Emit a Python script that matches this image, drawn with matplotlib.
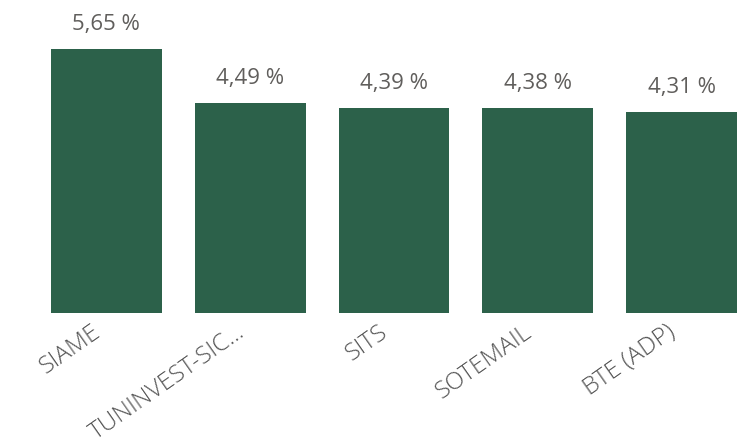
import matplotlib.pyplot as plt
from matplotlib.transforms import ScaledTranslation

names = ['SIAME', 'TUNINVEST-SIC...', 'SITS', 'SOTEMAIL', 'BTE (ADP)']
values = [5.65, 4.49, 4.39, 4.38, 4.31]
labels = ['5,65 %', '4,49 %', '4,39 %', '4,38 %', '4,31 %']

plt.rcParams['font.family'] = ['Open Sans', 'DejaVu Sans']

fig = plt.figure(figsize=(7.51, 4.45), dpi=100)
# axes placed in pixels: x 51..737, y 49..313 from top
ax = fig.add_axes([51 / 751, (445 - 313) / 445, 686 / 751, 264 / 445])
x = range(len(names))
ax.bar(x, values, width=0.77, color='#2c614a')
ax.set_xlim(-0.385, 4.385)
ax.set_ylim(0, 5.65)

for i, v in enumerate(values):
    ax.annotate(labels[i], (i, v), xytext=(0, 10), textcoords='offset points',
                ha='center', va='bottom', fontsize=16, color='#605e5c')

ax.set_xticks(list(x))
ax.set_xticklabels(names, rotation=35, ha='right', rotation_mode='anchor',
                   fontsize=17.5, fontweight='light', color='#555555')
ax.tick_params(axis='x', length=0, pad=5)
shift = ScaledTranslation(-15 / 100, 0, fig.dpi_scale_trans)
for t in ax.get_xticklabels():
    t.set_transform(t.get_transform() + shift)
ax.set_yticks([])
for s in ax.spines.values():
    s.set_visible(False)

fig.savefig('out.png', dpi=100)
